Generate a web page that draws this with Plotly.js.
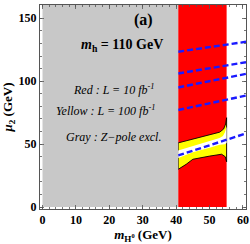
<!DOCTYPE html>
<html><head><meta charset="utf-8">
<script src="https://cdn.plot.ly/plotly-3.0.1.min.js"></script>
<style>html,body{margin:0;padding:0;background:#fff}</style>
</head><body><div id="c" style="width:250px;height:244px"></div>
<script>
// Regions (data coordinates)
const grayX = [0, 40.6, 40.6, 0];
const grayY = [0, 0, 160.5, 160.5];
const redX = [40.6, 55.1, 55.1, 40.6];
const redY = [0, 0, 160.5, 160.5];
// Outer yellow region (between outer black contours)
const yelX = [40.6, 45, 50, 53, 54.2, 54.8, 55.1, 55.1, 54.7, 53.6, 50, 47, 45, 43, 40.6];
const yelY = [51, 54, 57.5, 59.5, 62, 66, 71, 36, 40, 42, 40.5, 39.2, 38, 34, 30];
// White (allowed) band inside
const whiteX = [40.6, 45, 50, 53, 54, 54.6, 55.1, 55.1, 54.5, 53, 50, 45, 40.6];
const whiteY = [45, 48.5, 52.5, 54.8, 56.5, 59.5, 64, 51, 50, 49.6, 47.2, 43.5, 39];
// Blue dashed contours (endpoints)
const lineX = [40.6, 60.9];
const lines = [
  [123.4, 131.3],
  [106.1, 115.1],
  [95.0, 105.8],
  [77.1, 88.6],
  [41.0, 58.5]
];
const xTicks = [0, 10, 20, 30, 40, 50, 60];
const yTicks = [0, 50, 100, 150];

const traces = [];
function poly(x, y, fill, line) {
  traces.push({x: x.concat([x[0]]), y: y.concat([y[0]]), mode: 'lines', fill: 'toself',
    fillcolor: fill, line: line || {width: 0, color: fill}, hoverinfo: 'skip', showlegend: false});
}
poly(redX, redY, '#ff0000');
poly(yelX, yelY, '#ffff00', {width: 0.9, color: '#000'});
poly(whiteX, whiteY, '#ffffff');
lines.forEach(l => traces.push({x: lineX, y: l, mode: 'lines',
  line: {color: '#1a1aff', width: 2.4, dash: '6px,3px'}, hoverinfo: 'skip', showlegend: false}));
poly(grayX, grayY, '#c8c8c8');

const F = 'Liberation Serif, Times New Roman, serif';
const ann = [
  {x: 30.3, y: 148.2, text: '<b>(a)</b>', size: 16},
  {x: 23.8, y: 128.4, text: '<b><i>m</i><sub>h</sub> = 110 GeV</b>', size: 14},
  {x: 21.3, y: 93.5, text: '<i>Red : L = 10 fb<sup>-1</sup></i>', size: 12},
  {x: 19.0, y: 76.9, text: '<i>Yellow : L = 100 fb<sup>-1</sup></i>', size: 12},
  {x: 21.2, y: 55.5, text: '<i>Gray : Z\u2212pole excl.</i>', size: 12}
].map(a => ({x: a.x, y: a.y, xref: 'x', yref: 'y', text: a.text, showarrow: false,
  font: {family: F, size: a.size, color: '#000'}, xanchor: 'center', yanchor: 'middle'}));

const axBase = {showgrid: false, zeroline: false, showline: true, linecolor: '#555', linewidth: 1,
  mirror: 'allticks', ticks: 'inside', ticklen: 4, tickcolor: '#555', tickwidth: 0.8,
  tickfont: {family: F, size: 12, color: '#000'}};
const layout = {
  width: 250, height: 244, margin: {l: 39.5, r: 4, t: 4.5, b: 35},
  paper_bgcolor: '#fff', plot_bgcolor: '#fff', showlegend: false,
  xaxis: Object.assign({}, axBase, {range: [-0.75, 60.9], tickmode: 'array', tickvals: xTicks,
    ticktext: xTicks.map(v => '<b>' + v + '</b>'), minor: {dtick: 2, ticks: 'inside', ticklen: 2, tickcolor: '#555'},
    title: {text: '<b><i>m</i><sub>H<sup>0</sup></sub> (GeV)</b>', font: {family: F, size: 13, color: '#000'}, standoff: 10}}),
  yaxis: Object.assign({}, axBase, {range: [-1.5, 160.5], tickmode: 'array', tickvals: yTicks,
    ticktext: yTicks.map(v => '<b>' + v + '</b>'), minor: {dtick: 10, ticks: 'inside', ticklen: 2, tickcolor: '#555'},
    title: {text: '<b><i>\u03bc</i><sub>2</sub> (GeV)</b>', font: {family: F, size: 13, color: '#000'}, standoff: 6}}),
  annotations: ann
};
Plotly.newPlot('c', traces, layout, {staticPlot: true, displayModeBar: false});
</script></body></html>
